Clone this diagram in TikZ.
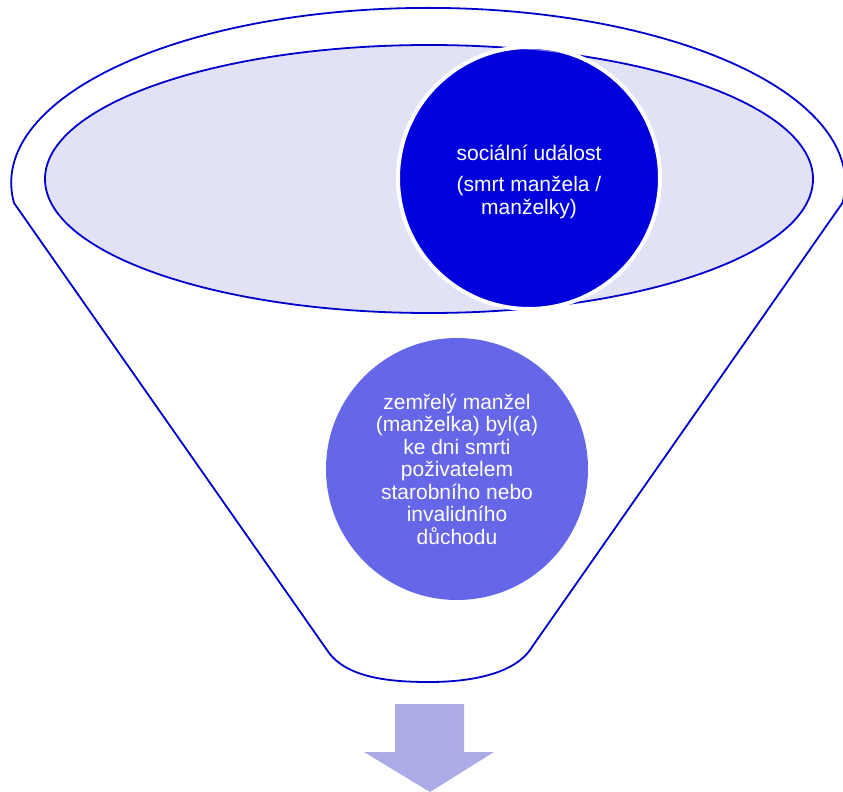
\documentclass[tikz,border=0pt]{standalone}
\usepackage{fontspec}
\setmainfont{Liberation Sans}
\definecolor{lineblue}{RGB}{0,0,204}
\definecolor{darkblue}{RGB}{0,0,220}
\definecolor{capblue}{RGB}{104,104,232}
\definecolor{midblue}{RGB}{102,102,232}
\definecolor{lav}{RGB}{226,226,246}
\definecolor{arrowblue}{RGB}{171,171,232}
\tikzset{
  funnel/.style={draw=lineblue, line width=1.8pt, line join=round},
  bigcircle/.style={circle, minimum size=262pt, inner sep=0pt, text=white, align=center,
     font=\fontsize{21}{22.5}\selectfont},
}
\begin{document}
\begin{tikzpicture}[x=1pt,y=-1pt]
\useasboundingbox (0,0) rectangle (843,792);
% funnel outline
\draw[funnel] (327,650) -- (14,203)
  arc[start angle=173.4, end angle=366.56, x radius=417, y radius=175]
  -- (532,647)
  .. controls (515,675) and (468,682) .. (429,682)
  .. controls (390,682) and (345,678) .. (327,650);
% inner ellipse
\draw[funnel, fill=lav] (429,179) ellipse[x radius=384, y radius=134];
% top circle
\node[bigcircle, fill=darkblue, draw=white, line width=4pt] (c1) at (529,178) {};
\begin{scope}
  \clip (529,178) circle[radius=129];
  \fill[capblue, even odd rule] (0,0) rectangle (843,400) (429,179) ellipse[x radius=384, y radius=134];
\end{scope}
\node[text=white, align=center, font=\fontsize{21}{23}\selectfont] (t1) at (529,182)
  {sociální událost\\[8pt](smrt manžela /\\manželky)};
% lower circle
\node[bigcircle, fill=midblue] (c2) at (457,469)
  {zemřelý manžel\\(manželka) byl(a)\\ke dni smrti\\poživatelem\\starobního nebo\\invalidního\\důchodu};
% arrow
\fill[arrowblue] (395,704) -- (464,704) -- (464,752) -- (494,752) -- (430,792)
  -- (364,752) -- (395,752) -- cycle;
\end{tikzpicture}
\end{document}
